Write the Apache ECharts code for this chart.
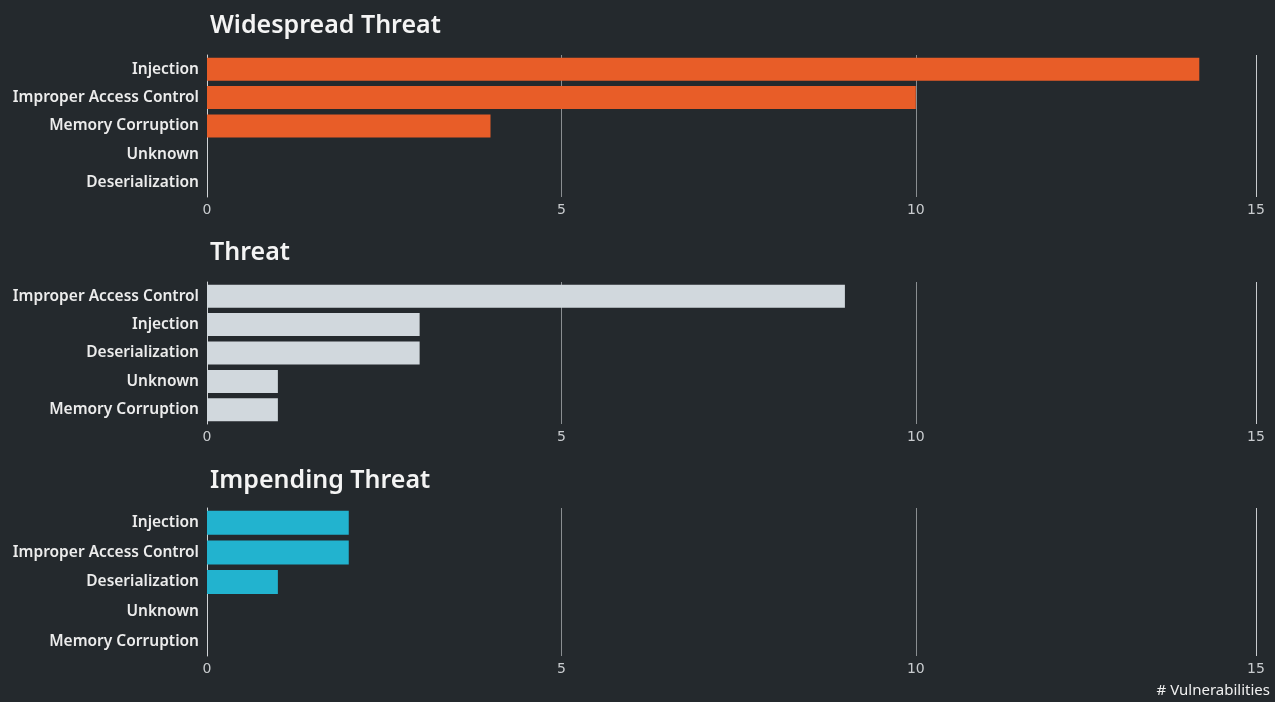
<!DOCTYPE html>
<html><head><meta charset="utf-8">
<script src="https://cdn.jsdelivr.net/npm/echarts@6/dist/echarts.min.js"></script>
<style>html,body{margin:0;padding:0;background:#24292d;}#c{width:1275px;height:702px;}</style>
</head><body><div id="c"></div>
<script>
const panelTitles = ['Widespread Threat', 'Threat', 'Impending Threat'];
const cats1 = ['Injection', 'Improper Access Control', 'Memory Corruption', 'Unknown', 'Deserialization'];
const vals1 = [14, 10, 4, 0, 0];
const cats2 = ['Improper Access Control', 'Injection', 'Deserialization', 'Unknown', 'Memory Corruption'];
const vals2 = [9, 3, 3, 1, 1];
const cats3 = ['Injection', 'Improper Access Control', 'Deserialization', 'Unknown', 'Memory Corruption'];
const vals3 = [2, 2, 1, 0, 0];
const colors = ['#e85d28', '#d1d8dd', '#22b3cf'];
const xTickStep = 5;
const axisTitle = '# Vulnerabilities';

const chart = echarts.init(document.getElementById('c'));
const grids = [{top: 55, height: 142}, {top: 282, height: 142}, {top: 508, height: 148}];
const titleTops = [8, 235, 463];
const cats = [cats1, cats2, cats3];
const vals = [vals1, vals2, vals3];
const FONT = 'Noto Sans';
const option = {
  backgroundColor: '#24292d',
  title: panelTitles.map((t, i) => ({
    text: t, left: 205, top: titleTops[i],
    textStyle: {color: '#f4f4f4', fontSize: 25, fontWeight: 600, fontFamily: FONT}
  })).concat([{text: axisTitle, right: 0, bottom: -1,
    textStyle: {color: '#f0f0f0', fontSize: 15, fontWeight: 'normal', fontFamily: FONT}}]),
  grid: grids.map(g => ({left: 207, right: 19, top: g.top, height: g.height})),
  xAxis: grids.map((g, i) => ({
    type: 'value', gridIndex: i, min: 0, max: 14.8, interval: xTickStep,
    axisLine: {show: false}, axisTick: {show: false},
    axisLabel: {color: '#c9cccf', fontSize: 14, fontFamily: 'DejaVu Sans', margin: 6,
      formatter: v => String(Math.round(v)), showMaxLabel: true},
    splitLine: {show: true, lineStyle: {color: ['#d0d3d6', '#8a8e91', '#8a8e91', '#c8cbce'], width: 1}}
  })),
  yAxis: grids.map((g, i) => ({
    type: 'category', gridIndex: i, data: cats[i], inverse: true,
    axisLine: {show: true, lineStyle: {color: '#d0d3d6', width: 1}},
    axisTick: {show: false},
    axisLabel: {color: '#ececec', fontSize: 15.5, fontWeight: 600, fontFamily: FONT, margin: 8}
  })),
  series: vals.map((v, i) => ({
    type: 'bar', xAxisIndex: i, yAxisIndex: i, data: v,
    barCategoryGap: '19%', itemStyle: {color: colors[i]}, silent: true
  }))
};
chart.setOption(option);
</script></body></html>
